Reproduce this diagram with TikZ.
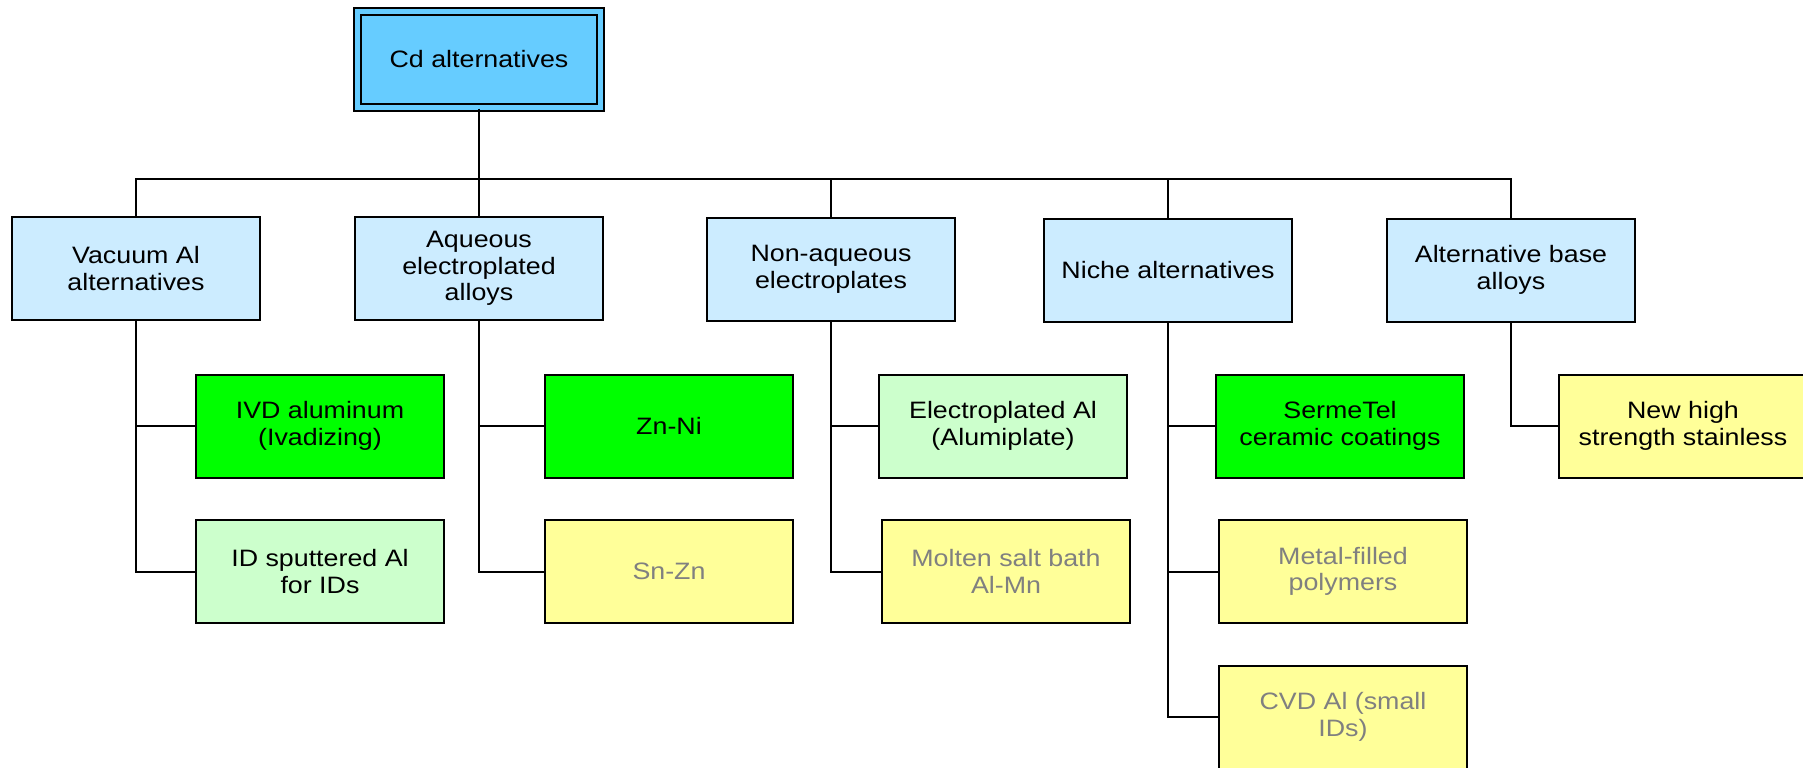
\documentclass[tikz,border=0pt]{standalone}
\usepackage{fontspec}
\setmainfont{Liberation Sans}[FakeStretch=1.13]
\definecolor{CdBlue}{HTML}{66CCFF}
\definecolor{GroupBlue}{HTML}{CCECFF}
\definecolor{BrightGreen}{HTML}{00FF00}
\definecolor{PaleGreen}{HTML}{CCFFCC}
\definecolor{PaleYellow}{HTML}{FFFF99}
\definecolor{DimText}{HTML}{808080}
\begin{document}
\begin{tikzpicture}[x=0.2mm,y=-0.2mm,line width=0.4mm,
  every node/.style={font=\fontsize{13.5}{15.2}\selectfont,align=center,inner sep=0pt},
  box/.style={draw=black,line width=0.4mm,minimum width=49.6mm,minimum height=20.6mm},
  groupbox/.style={box,fill=GroupBlue},
  chosen/.style={box,fill=BrightGreen},
  maybe/.style={box,fill=PaleGreen},
  later/.style={box,fill=PaleYellow,text=DimText}]
  \useasboundingbox (0,0) rectangle (1803,767);
  \node[draw=black,double=CdBlue,double distance=1mm,fill=CdBlue,minimum width=48.6mm,minimum height=19.2mm] (root) at (479,59.5) {Cd alternatives};
  \coordinate (hub) at (479,179);
  % main groups
  \node[groupbox] (vac) at (136,268.5) {Vacuum Al\\alternatives};
  \node[groupbox] (aq) at (479,268.5) {Aqueous\\electroplated\\alloys};
  \node[groupbox] (nonaq) at (831,269.5) {Non-aqueous\\electroplates};
  \node[groupbox] (niche) at (1168,270) {Niche alternatives};
  \node[groupbox] (altb) at (1511,270) {Alternative base\\alloys};
  % options under each group
  \node[chosen] (ivd) at (320,426) {IVD aluminum\\(Ivadizing)};
  \node[maybe] (sput) at (320,571.5) {ID sputtered Al\\for IDs};
  \node[chosen] (znni) at (669,426) {Zn-Ni};
  \node[later] (snzn) at (669,571.5) {Sn-Zn};
  \node[maybe] (elal) at (1003,426) {Electroplated Al\\(Alumiplate)};
  \node[later] (molten) at (1006,571.5) {Molten salt bath\\Al-Mn};
  \node[chosen] (serme) at (1340,426) {SermeTel\\ceramic coatings};
  \node[later] (metal) at (1343,571.5) {Metal-filled\\polymers};
  \node[later] (cvd) at (1343,717) {CVD Al (small\\IDs)};
  \node[box,fill=PaleYellow] (newhigh) at (1683,426) {New high\\strength stainless};
  \draw (root) -- (hub);
  \foreach \p in {vac,aq,nonaq,niche,altb}{\draw (\p.north) |- (hub);}
  \foreach \x/\y in {vac/ivd,vac/sput,aq/znni,aq/snzn,nonaq/elal,nonaq/molten,niche/serme,niche/metal,niche/cvd,altb/newhigh}{\draw (\x.south) |- (\y.west);}
\end{tikzpicture}
\end{document}
